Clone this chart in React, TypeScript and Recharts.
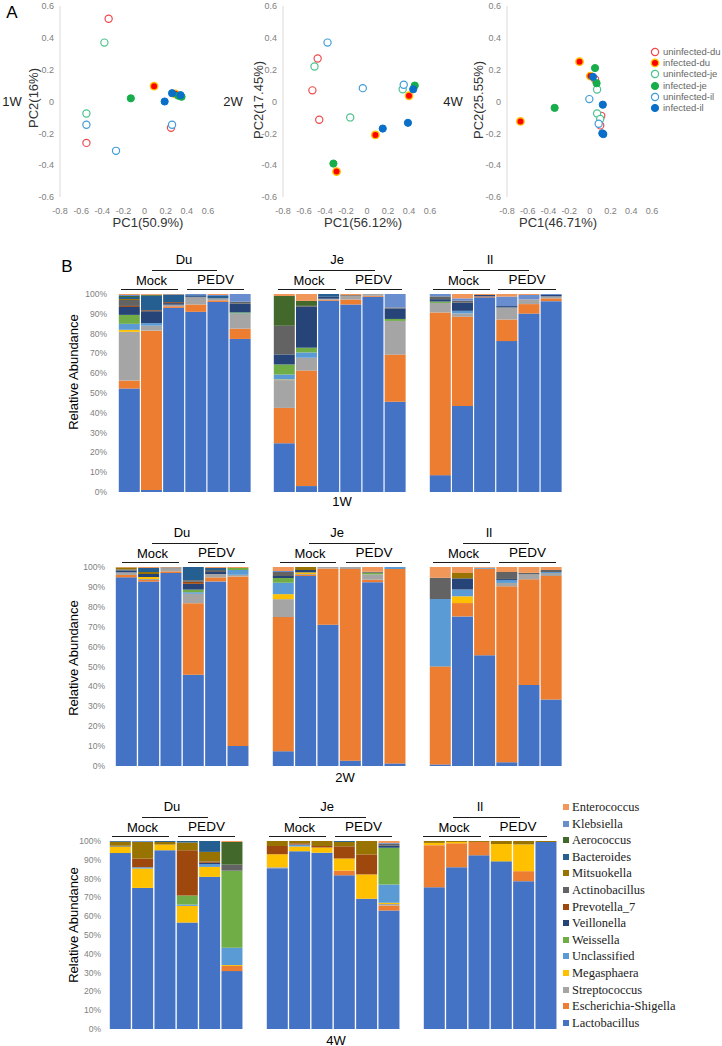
import React from "react";
import { BarChart, Bar, XAxis, YAxis, ScatterChart, Scatter } from "recharts";

const SANS = "'Liberation Sans', Arial, sans-serif";
const SERIF = "'Liberation Serif', 'Times New Roman', serif";

// ---------- PCA (panel A) ----------
const PC_X_TICKS = [-0.8, -0.6, -0.4, -0.2, 0, 0.2, 0.4, 0.6];
const PC_Y_TICKS = [-0.6, -0.4, -0.2, 0, 0.2, 0.4, 0.6];

const GROUPS = ["uninfected-du", "infected-du", "uninfected-je", "infected-je", "uninfected-il", "infected-il"];

// points per group, [PC1, PC2]
const pca1W = [
  [[-0.34, 0.52], [-0.55, -0.26], [0.25, -0.165]],
  [[0.09, 0.096], [0.29, 0.048]],
  [[-0.38, 0.37], [-0.55, -0.075]],
  [[-0.13, 0.02], [0.32, 0.036], [0.35, 0.03]],
  [[-0.55, -0.146], [-0.27, -0.31], [0.26, -0.146]],
  [[0.26, 0.052], [0.19, 0.0], [0.34, 0.04]],
];
const pca2W = [
  [[-0.47, 0.27], [-0.52, 0.07], [-0.455, -0.115]],
  [[0.08, -0.21], [-0.29, -0.44], [0.4, 0.036]],
  [[-0.5, 0.22], [-0.16, -0.1], [0.34, 0.077]],
  [[-0.32, -0.39], [0.455, 0.1]],
  [[-0.376, 0.37], [-0.04, 0.084], [0.35, 0.105]],
  [[0.15, -0.17], [0.39, -0.134], [0.44, 0.077]],
];
const pca4W = [
  [[0.05, 0.14], [0.11, -0.09], [0.1, -0.15]],
  [[-0.67, -0.125], [-0.1, 0.25], [0.005, 0.16]],
  [[0.07, 0.075], [0.07, -0.075], [0.1, -0.11]],
  [[0.05, 0.21], [0.065, 0.115], [-0.34, -0.04]],
  [[-0.005, 0.015], [0.085, -0.14]],
  [[0.03, 0.155], [0.125, -0.02], [0.12, -0.2], [0.13, -0.205]],
];

const GROUP_STYLE = [
  { fill: "#ffffff", stroke: "#ee4a4d", sw: 1.2, r: 3.6 },
  { fill: "#ff0000", stroke: "#ffc000", sw: 1.4, r: 3.7 },
  { fill: "#ffffff", stroke: "#4cc28c", sw: 1.2, r: 3.6 },
  { fill: "#16ad4a", stroke: "#16ad4a", sw: 1, r: 3.6 },
  { fill: "#ffffff", stroke: "#419cdb", sw: 1.2, r: 3.6 },
  { fill: "#0a6fc8", stroke: "#0a6fc8", sw: 1, r: 3.6 },
];

// ---------- Relative abundance (panel B) ----------
// stacking order, bottom to top
const TAXA = [
  "Lactobacillus", "Escherichia-Shigella", "Streptococcus", "Megasphaera", "Unclassified",
  "Weissella", "Veillonella", "Prevotella_7", "Actinobacillus", "Mitsuokella",
  "Bacteroides", "Aerococcus", "Klebsiella", "Enterococcus",
];
const TAXA_COLORS = [
  "#4472c4", "#ed7d31", "#a5a5a5", "#ffc000", "#5b9bd5",
  "#70ad47", "#264478", "#9e480e", "#636363", "#997300",
  "#255e91", "#43682b", "#698ed0", "#f1975a",
];
const SAMPLES = ["M1", "M2", "M3", "P1", "P2", "P3"];

const du1W = [
  [52, 4, 24.5, 1, 3, 4.5, 4, 0.5, 3, 0.5, 1, 0.5, 0.5, 0.5],
  [1, 80.5, 2.5, 0, 1.3, 0, 6, 0.5, 0, 0, 7.3, 0.5, 0, 0.4],
  [93, 0.8, 0.8, 0, 0, 0, 0.8, 0.5, 0, 0, 3.9, 0, 0, 0.2],
  [91, 3.7, 3.7, 0, 0, 0, 0.5, 0, 0, 0, 0.5, 0, 0.6, 0],
  [96, 0.8, 1, 0, 0, 0, 0, 0, 0, 0, 1.2, 0, 0.5, 0.5],
  [77.3, 5.2, 7.4, 0, 0.3, 0.5, 4.4, 0, 1, 0, 0, 0, 3.9, 0],
];
const je1W = [
  [24.7, 17.9, 14.1, 0.3, 2.5, 5.1, 5.1, 0, 14.5, 0, 0, 15.1, 0, 1],
  [3, 58.5, 6.5, 0, 2.7, 2.4, 20.7, 0, 0.5, 0, 0, 2.5, 0, 3.5],
  [96.6, 0.5, 0.5, 0, 0, 0, 1, 0, 0, 0, 1.4, 0, 0, 0],
  [94.7, 2.5, 1.7, 0, 0, 0, 0, 0, 0.5, 0, 0, 0, 0, 0.6],
  [98.6, 0.5, 0.9, 0, 0, 0, 0, 0, 0, 0, 0, 0, 0, 0],
  [45.6, 23.8, 17, 0, 0, 1, 5.3, 0, 0.5, 0, 0, 0, 6.8, 0],
];
const il1W = [
  [8.5, 82, 4.8, 0, 0, 0.7, 1.2, 0, 1.4, 0, 0, 0, 1.2, 0],
  [43.4, 45, 1.7, 0, 1.3, 0, 4.1, 0, 1, 0, 0, 0, 1.2, 2.2],
  [98.3, 0.5, 0, 0, 0, 0, 0.7, 0, 0, 0, 0, 0, 0, 0.5],
  [76.2, 10.9, 6.1, 0, 0, 0, 0.7, 0, 0, 0, 0, 0, 4.8, 1.3],
  [90.1, 4.8, 2.4, 0, 0, 0, 0, 0, 0, 0, 0, 0, 2.2, 0.5],
  [96.4, 1.4, 1, 0, 0, 0, 0.7, 0, 0, 0, 0, 0, 0.5, 0],
];
const du2W = [
  [94.8, 1.2, 1.3, 0, 0, 0, 1, 0, 0.5, 1, 0, 0, 0, 0.2],
  [92.3, 0.8, 0.5, 1, 0, 0, 1.5, 0, 0, 1, 2, 0, 0, 0.5],
  [96.8, 0.8, 1.5, 0, 0, 0, 0, 0, 0.5, 0, 0, 0, 0, 0.2],
  [45.6, 35.7, 4.7, 0, 0.8, 1.3, 2.9, 1, 0.8, 0, 6.6, 0, 0, 0],
  [92.4, 2, 1.7, 0, 0, 0, 1, 0, 1, 0, 1, 0, 0, 0.5],
  [10, 84.8, 0.8, 0, 2.4, 1, 0, 0, 0, 0, 0, 0, 0, 0.5],
];
const je2W = [
  [7.4, 67.2, 9, 2.5, 5.7, 2.4, 1, 0, 2, 0, 0, 0, 0.5, 2],
  [95.3, 0.5, 0.5, 0.8, 0, 0, 1.2, 0, 0, 1.5, 0, 0, 0, 0],
  [70.9, 28.1, 0.8, 0, 0, 0, 0, 0, 0, 0, 0, 0, 0, 0],
  [2.7, 96.3, 1, 0, 0, 0, 0, 0, 0, 0, 0, 0, 0, 0],
  [92.3, 1.2, 2.7, 0, 0, 0.8, 0, 0, 0.5, 0, 0, 0, 0, 2.4],
  [1.3, 97.3, 0, 0, 1, 0, 0, 0, 0, 0, 0, 0, 0, 0],
];
const il2W = [
  [0.8, 48.7, 0.5, 0, 33.5, 0, 0, 0, 10.6, 0, 0, 0, 0, 5.4],
  [75.1, 6.7, 0, 3.4, 3.4, 0, 5.6, 0, 0, 2.7, 0, 0, 0, 3],
  [55.7, 43.4, 0, 0, 0.5, 0, 0, 0, 0, 0, 0, 0, 0, 0.4],
  [1.9, 88.4, 1.7, 0, 1.5, 0, 0.5, 0, 3.5, 0, 0, 0, 0, 2.5],
  [40.6, 53, 2.5, 0, 0, 0, 0, 0, 0.8, 0, 0, 0, 0, 2.9],
  [33.3, 62, 1.5, 0, 0.5, 0, 0, 0, 1, 0, 0, 0, 0, 1.5],
];
const du4W = [
  [93.5, 0, 0, 3.5, 0, 0, 0.4, 0, 0, 2.1, 0.4, 0, 0, 0],
  [74.9, 0, 0, 10.3, 0.7, 0, 0, 4.6, 0, 8.8, 0, 0, 0.5, 0],
  [94.9, 0, 0, 3, 0, 0, 0, 0, 0, 1.4, 0.5, 0, 0, 0],
  [56.3, 0, 0, 8.8, 0.7, 4.8, 0, 23.9, 0, 4.1, 0.8, 0, 0, 0],
  [81.1, 0, 0, 5.3, 1.5, 0, 0.7, 0.7, 0, 5.1, 5.8, 0, 0, 0],
  [30.6, 2.7, 0, 0.5, 9.2, 40.7, 0, 0, 3.2, 0, 0, 12, 0, 0.5],
];
const je4W = [
  [85.5, 0, 0.5, 7, 0, 0, 0, 4.4, 0, 2.6, 0, 0, 0, 0],
  [94, 0, 0, 2.5, 1, 0, 0, 0.7, 0, 1.2, 0, 0, 0, 0],
  [92.9, 0, 0, 2.8, 0, 0, 0, 0.8, 0, 2.6, 0, 0, 0, 0],
  [81.6, 2.5, 0, 6.4, 0, 0, 0, 6.5, 0, 2.3, 0.5, 0, 0, 0],
  [69, 0, 0, 12.9, 0, 0, 0, 10.6, 0, 7.1, 0, 0, 0, 0],
  [62.5, 2.7, 0.7, 0.7, 9.6, 19.5, 1, 0, 1, 0, 0, 0, 0.5, 1],
];
const il4W = [
  [75.2, 22.3, 0, 1.2, 0, 0, 0, 0, 0, 1, 0, 0, 0, 0],
  [85.8, 12.7, 0, 0.7, 0, 0, 0, 0, 0, 0.5, 0, 0, 0, 0],
  [92.2, 7.1, 0, 0, 0, 0, 0, 0, 0, 0.5, 0, 0, 0, 0],
  [89, 0, 0, 9.2, 0, 0, 0, 0, 0, 1.6, 0, 0, 0, 0],
  [78.4, 5.3, 0, 14.2, 0, 0, 0, 0, 0, 1.8, 0, 0, 0, 0],
  [99.3, 0, 0, 0, 0, 0, 0, 0, 0, 0.5, 0, 0, 0, 0],
];

const PCT_TICKS = [0, 0.1, 0.2, 0.3, 0.4, 0.5, 0.6, 0.7, 0.8, 0.9, 1];

const toRows = (m: number[][]) =>
  m.map((vals, i) => {
    const row: Record<string, any> = { sample: SAMPLES[i] };
    TAXA.forEach((t, j) => (row[t] = vals[j]));
    return row;
  });

const fmtPc = (v: number) => String(Math.round(v * 10) / 10);

function T({ x, y, children, size = 13, rot = false, color = "#000", family = SANS, left = false }: any) {
  return (
    <div
      style={{
        position: "absolute",
        left: x,
        top: y,
        fontSize: size,
        fontFamily: family,
        color,
        whiteSpace: "nowrap",
        lineHeight: 1,
        transform: left ? "translate(0,-50%)" : rot ? "translate(-50%,-50%) rotate(-90deg)" : "translate(-50%,-50%)",
      }}
    >
      {children}
    </div>
  );
}

function HLine({ x1, x2, y }: { x1: number; x2: number; y: number }) {
  return <div style={{ position: "absolute", left: x1, top: y, width: x2 - x1, height: 1, background: "#1a1a1a" }} />;
}

function PcaPanel({ plotLeft, plotRight, groups }: { plotLeft: number; plotRight: number; groups: number[][][] }) {
  const yw = 40;
  return (
    <div style={{ position: "absolute", left: plotLeft - yw, top: 0 }}>
      <ScatterChart width={plotRight - plotLeft + yw + 12} height={217} margin={{ top: 6, right: 12, bottom: 0, left: 0 }}>
        <XAxis
          type="number"
          dataKey="x"
          domain={[-0.8, 0.6]}
          ticks={PC_X_TICKS}
          tickFormatter={fmtPc}
          axisLine={false}
          tickLine={false}
          tickSize={0}
          tickMargin={11}
          height={20}
          interval={0}
          allowDataOverflow
          tick={{ fontSize: 9, fill: "#808080", fontFamily: SANS }}
        />
        <YAxis
          type="number"
          dataKey="y"
          domain={[-0.6, 0.6]}
          ticks={PC_Y_TICKS}
          tickFormatter={fmtPc}
          width={yw}
          axisLine={{ stroke: "#d9d9d9" }}
          tickLine={false}
          tickSize={0}
          tickMargin={6}
          interval={0}
          allowDataOverflow
          tick={{ fontSize: 9, fill: "#808080", fontFamily: SANS }}
        />
        {groups.map((pts, g) => {
          const s = GROUP_STYLE[g];
          return (
            <Scatter
              key={GROUPS[g]}
              name={GROUPS[g]}
              data={pts.map(([x, y]) => ({ x, y }))}
              isAnimationActive={false}
              shape={(p: any) => <circle cx={p.cx} cy={p.cy} r={s.r} fill={s.fill} stroke={s.stroke} strokeWidth={s.sw} />}
            />
          );
        })}
      </ScatterChart>
    </div>
  );
}

function AbundancePanel({ data, x, y, w, h, showY = false, gap = 10 }: any) {
  const yw = showY ? 50 : 0;
  return (
    <div style={{ position: "absolute", left: x - yw, top: y - 6 }}>
      <BarChart
        width={w + yw}
        height={h + 12}
        data={toRows(data)}
        stackOffset="expand"
        barCategoryGap={0.8}
        margin={{ top: 6, right: 0, bottom: 6, left: 0 }}
      >
        <XAxis dataKey="sample" hide />
        <YAxis
          hide={!showY}
          width={yw}
          domain={[0, 1]}
          ticks={PCT_TICKS}
          interval={0}
          tickFormatter={(v: number) => `${Math.round(v * 100)}%`}
          axisLine={false}
          tickLine={false}
          tickSize={0}
          tickMargin={gap}
          tick={{ fontSize: 8.5, fill: "#808080", fontFamily: SANS }}
        />
        {TAXA.map((t, j) => (
          <Bar key={t} dataKey={t} stackId="s" fill={TAXA_COLORS[j]} isAnimationActive={false} />
        ))}
      </BarChart>
    </div>
  );
}

function GroupHeader({ tissue, tx, ty, tl, ml, pl }: any) {
  // tissue label + line, Mock / PEDV labels + lines
  return (
    <>
      <T x={tx} y={ty}>{tissue}</T>
      <HLine x1={tl[0]} x2={tl[1]} y={ty + 11} />
      <T x={(ml[0] + ml[1]) / 2 + 2} y={ty + 21}>Mock</T>
      <HLine x1={ml[0]} x2={ml[1]} y={ty + 30} />
      <T x={(pl[0] + pl[1]) / 2} y={ty + 21} size={13.5}>PEDV</T>
      <HLine x1={pl[0]} x2={pl[1]} y={ty + 30} />
    </>
  );
}

export default function App() {
  const legendRowsA = GROUPS.map((g, i) => ({ g, i, y: 52 + i * 11.2 }));
  const legendB = TAXA.map((t, j) => ({ t, c: TAXA_COLORS[j] })).reverse();
  return (
    <div style={{ position: "absolute", left: 0, top: 0, width: 722, height: 1046, background: "#fff", overflow: "hidden" }}>
      {/* Panel A */}
      <T x={12} y={12} size={17}>A</T>
      <PcaPanel plotLeft={60} plotRight={208} groups={pca1W} />
      <PcaPanel plotLeft={283} plotRight={430} groups={pca2W} />
      <PcaPanel plotLeft={507} plotRight={652} groups={pca4W} />
      <T x={12} y={101} size={13} color="#222">1W</T>
      <T x={233} y={101} size={13} color="#222">2W</T>
      <T x={453} y={101} size={13} color="#222">4W</T>
      <T x={33} y={98} size={13} rot color="#333">PC2(16%)</T>
      <T x={258} y={100} size={13} rot color="#333">PC2(17.45%)</T>
      <T x={478} y={100} size={13} rot color="#333">PC2(25.55%)</T>
      <T x={148} y={222} size={13} color="#333">PC1(50.9%)</T>
      <T x={363} y={222} size={13} color="#333">PC1(56.12%)</T>
      <T x={558} y={222} size={13} color="#333">PC1(46.71%)</T>
      {legendRowsA.map(({ g, i, y }) => {
        const s = GROUP_STYLE[i];
        return (
          <React.Fragment key={g}>
            <svg style={{ position: "absolute", left: 650, top: y - 5 }} width={10} height={10}>
              <circle cx={5} cy={5} r={s.r} fill={s.fill} stroke={s.stroke} strokeWidth={s.sw} />
            </svg>
            <T x={663} y={y} size={9.5} color="#666" left>{g}</T>
          </React.Fragment>
        );
      })}

      {/* Panel B */}
      <T x={67} y={266} size={17}>B</T>

      {/* 1W */}
      <GroupHeader tissue="Du" tx={184} ty={259} tl={[152, 217]} ml={[121, 178]} pl={[187, 244]} />
      <GroupHeader tissue="Je" tx={337} ty={259} tl={[309, 375]} ml={[278, 336]} pl={[345, 402]} />
      <GroupHeader tissue="Il" tx={490} ty={259} tl={[463, 529]} ml={[433, 490]} pl={[498, 556]} />
      <AbundancePanel data={du1W} x={118} y={294} w={133} h={198} showY gap={11} />
      <AbundancePanel data={je1W} x={273} y={294} w={133} h={198} />
      <AbundancePanel data={il1W} x={429} y={294} w={133} h={198} />
      <T x={73} y={372} size={13} rot>Relative Abundance</T>
      <T x={342} y={501} size={13}>1W</T>

      {/* 2W */}
      <GroupHeader tissue="Du" tx={182} ty={532} tl={[152, 218]} ml={[122, 179]} pl={[188, 245]} />
      <GroupHeader tissue="Je" tx={337} ty={532} tl={[309, 375]} ml={[280, 336]} pl={[346, 402]} />
      <GroupHeader tissue="Il" tx={489} ty={532} tl={[463, 529]} ml={[433, 490]} pl={[499, 556]} />
      <AbundancePanel data={du2W} x={115} y={567} w={134} h={199} showY gap={10} />
      <AbundancePanel data={je2W} x={272} y={567} w={134} h={199} />
      <AbundancePanel data={il2W} x={429} y={567} w={133} h={199} />
      <T x={73} y={658} size={13} rot>Relative Abundance</T>
      <T x={345} y={777} size={13}>2W</T>

      {/* 4W */}
      <GroupHeader tissue="Du" tx={172} ty={806} tl={[142, 208]} ml={[112, 169]} pl={[178, 235]} />
      <GroupHeader tissue="Je" tx={327} ty={806} tl={[299, 366]} ml={[269, 326]} pl={[335, 392]} />
      <GroupHeader tissue="Il" tx={480} ty={806} tl={[453, 520]} ml={[423, 481]} pl={[489, 547]} />
      <AbundancePanel data={du4W} x={109} y={841} w={134} h={188} showY gap={8} />
      <AbundancePanel data={je4W} x={266} y={841} w={134} h={188} />
      <AbundancePanel data={il4W} x={423} y={841} w={134} h={188} />
      <T x={73} y={925} size={13} rot>Relative Abundance</T>
      <T x={336} y={1040} size={13}>4W</T>

      {legendB.map(({ t, c }, i) => (
        <React.Fragment key={t}>
          <div style={{ position: "absolute", left: 563, top: 807 + i * 16.6 - 3, width: 6, height: 6, background: c }} />
          <T x={572} y={807 + i * 16.6} size={12.5} family={SERIF} color="#222" left>{t}</T>
        </React.Fragment>
      ))}
    </div>
  );
}
